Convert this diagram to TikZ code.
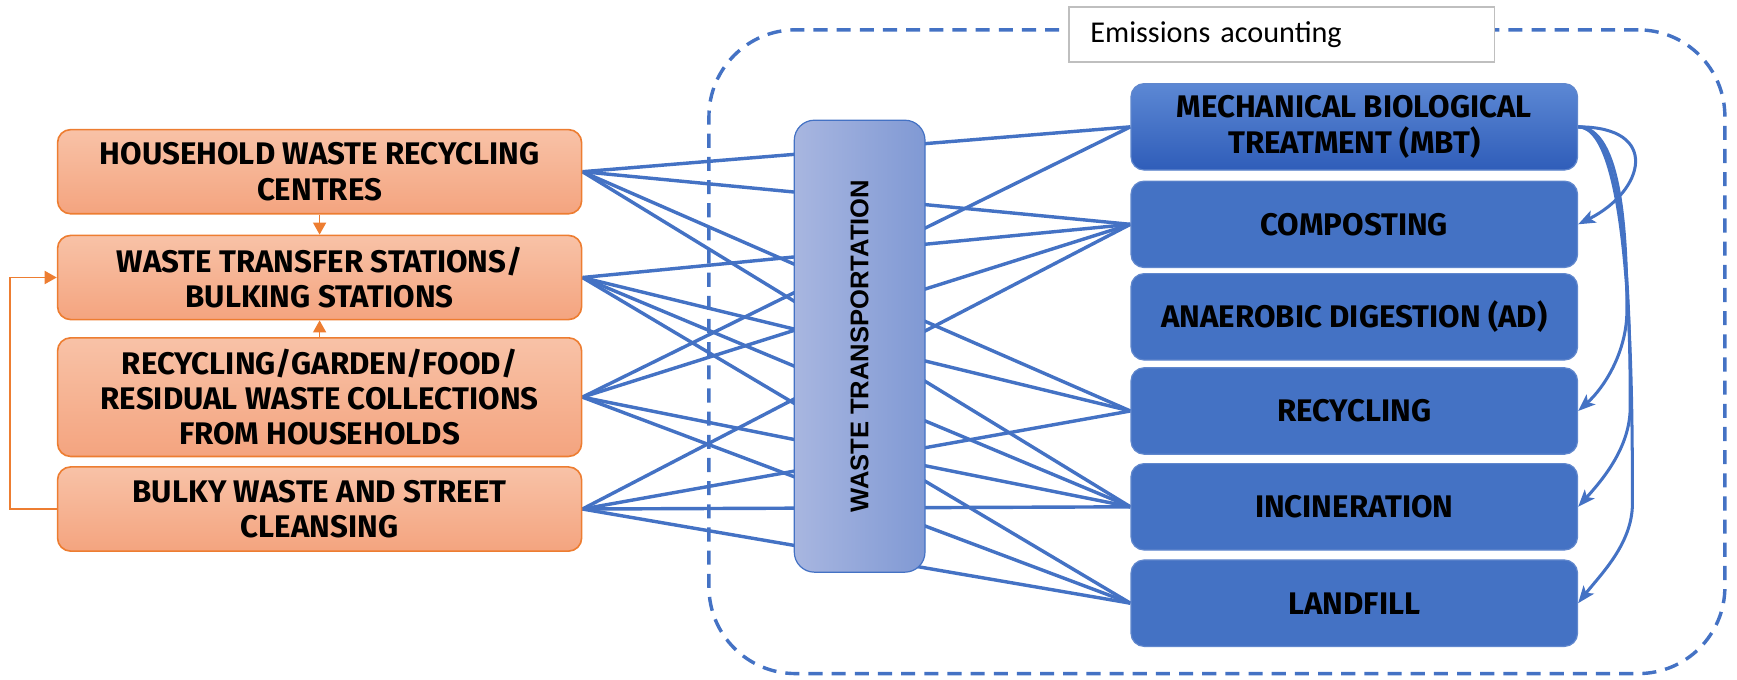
\documentclass[tikz,border=0pt]{standalone}
\usepackage{fontspec}
\setmainfont{Fira Sans}
\newfontfamily\transfont{Liberation Sans}
\newfontfamily\notefont{Carlito}
\usepackage{tikz}
\usetikzlibrary{arrows.meta,backgrounds}
\definecolor{wasteorange}{HTML}{ED7D31}
\definecolor{wasteorangetop}{HTML}{F8C2A7}
\definecolor{wasteorangebot}{HTML}{F4A47F}
\definecolor{wasteblue}{HTML}{4472C4}
\definecolor{wastebluetop}{HTML}{5C88D4}
\definecolor{wastebluebot}{HTML}{2F5DB9}
\definecolor{transleft}{HTML}{A8B6E0}
\definecolor{transright}{HTML}{8099D4}
\definecolor{notegray}{HTML}{BFBFBF}

\begin{document}
\begin{tikzpicture}[
  x=0.55pt, y=0.55pt,
  src/.style={draw=wasteorange, line width=0.8pt, rounded corners=6.5pt,
              top color=wasteorangetop, bottom color=wasteorangebot,
              minimum width=260.2pt, minimum height=41.8pt, inner sep=0pt,
              align=center, font=\bfseries\fontsize{15.5}{17.5}\selectfont},
  dst/.style={draw=wasteblue!85!white, line width=0.6pt, rounded corners=6.5pt,
              fill=wasteblue, minimum width=221.7pt, minimum height=42.9pt,
              inner sep=0pt, align=center, font=\bfseries\fontsize{15.5}{17.5}\selectfont},
  orarrow/.style={draw=wasteorange, line width=0.8pt,
                  -{Triangle[length=6pt,width=6.5pt]}},
  feed/.style={draw=wasteblue, line width=1.5pt,
               -{Stealth[length=8.5pt,width=6.5pt,inset=2pt]}},
  every edge/.style={draw=wasteblue, line width=1.7pt},
]
\useasboundingbox (0,0) rectangle (1568,-613);

% emissions boundary
\node[draw=wasteblue, line width=1.7pt, dash pattern=on 7pt off 4.5pt,
      rounded corners=43pt, minimum width=504.4pt, minimum height=319.6pt,
      inner sep=0pt] (acct) at (1098.5,-317.5) {};
\node[draw=notegray, line width=0.9pt, fill=white, minimum width=211.2pt,
      minimum height=27.5pt, inner sep=0pt, text width=200pt, align=left,
      font=\notefont\fontsize{15}{17}\selectfont] (note) at (1157,-31)
     {\hspace*{5pt}Emissions acounting};

% sources
\node[src] (hwrc) at (288.5,-155) {HOUSEHOLD WASTE RECYCLING\\CENTRES};
\node[src] (wts)  at (288.5,-250.5) {WASTE TRANSFER STATIONS/\\BULKING STATIONS};
\node[src, minimum height=58.9pt] (rgf) at (288.5,-358.5)
     {RECYCLING/GARDEN/FOOD/\\RESIDUAL WASTE COLLECTIONS\\FROM HOUSEHOLDS};
\node[src] (bwsc) at (288.5,-459.5) {BULKY WASTE AND STREET\\CLEANSING};

\draw[orarrow] (hwrc.south) -- (wts.north);
\draw[orarrow] (rgf.north) -- (wts.south);
\draw[orarrow] (bwsc.west) -- ++(-42,0) |- (wts.west);

% treatment options
\node[dst, top color=wastebluetop, bottom color=wastebluebot] (mbt) at (1222.5,-114.5)
     {MECHANICAL BIOLOGICAL\\TREATMENT (MBT)};
\node[dst] (comp) at (1222.5,-202.5) {COMPOSTING};
\node[dst] (ad)   at (1222.5,-286)   {ANAEROBIC DIGESTION (AD)};
\node[dst] (recy) at (1222.5,-371)   {RECYCLING};
\node[dst] (inc)  at (1222.5,-457.5) {INCINERATION};
\node[dst] (land) at (1222.5,-544.5) {LANDFILL};

% transport
\node[draw=wasteblue, line width=0.6pt, rounded corners=10pt,
      left color=transleft, right color=transright,
      minimum width=64.9pt, minimum height=224.4pt, inner sep=0pt] (trans) at (776,-312.5)
     {\rotatebox{90}{\transfont\bfseries\fontsize{12.7}{15}\selectfont WASTE TRANSPORTATION}};

\begin{scope}[on background layer]
\draw (hwrc.east) edge (mbt.west) edge (comp.west) edge (recy.west) edge (inc.west);
\draw (wts.east)  edge (comp.west) edge (recy.west) edge (inc.west) edge (land.west);
\draw (rgf.east)  edge (mbt.west) edge (comp.west) edge (inc.west) edge (land.west);
\draw (bwsc.east) edge (comp.west) edge (recy.west) edge (inc.west) edge (land.west);
\end{scope}

% outputs of MBT
\draw[feed] (mbt.east) .. controls +(75,0) and +(60,30) .. (comp.east);
\draw[feed] (mbt.east) to[out=0, in=90, out distance=22pt, in distance=35pt] ++(44,-166)
                       to[out=-90, in=42, out distance=20pt, in distance=18pt] (recy.east);
\draw[feed] (mbt.east) to[out=0, in=90, out distance=24pt, in distance=50pt] ++(47,-253)
                       to[out=-90, in=48, out distance=20pt, in distance=18pt] (inc.east);
\draw[feed] (mbt.east) to[out=0, in=90, out distance=26pt, in distance=65pt] ++(49,-340)
                       to[out=-90, in=52, out distance=20pt, in distance=18pt] (land.east);
\end{tikzpicture}
\end{document}
